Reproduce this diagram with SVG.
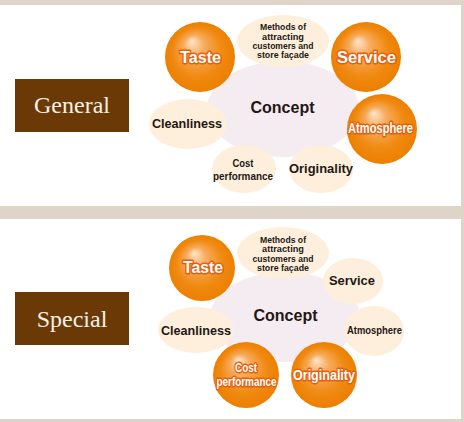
<svg xmlns="http://www.w3.org/2000/svg" width="464" height="422" viewBox="0 0 464 422">
<defs>
<radialGradient id="sph" cx="0.5" cy="0.5" r="0.5" fx="0.38" fy="0.27">
<stop offset="0" stop-color="#fde6cc"/>
<stop offset="0.3" stop-color="#f6ab5c"/>
<stop offset="0.7" stop-color="#f08a12"/>
<stop offset="1" stop-color="#ec7f00"/>
</radialGradient>
<style>
.bg{fill:#ded4c7}
.panel{fill:#ffffff}
.box{fill:#6a3906}
.boxt{font-family:"Liberation Serif","Times New Roman",serif;font-size:24px;fill:#f7f1e6;text-anchor:middle}
.concept{fill:#f5ecf1}
.light{fill:#fdefdc}
.sphere{fill:url(#sph)}
.lt{font-family:"Liberation Sans",Arial,sans-serif;font-weight:bold;fill:#231815;text-anchor:middle}
.st{font-family:"Liberation Sans",Arial,sans-serif;font-weight:bold;fill:#ffffff;stroke:#e5600e;stroke-width:3;stroke-linejoin:round;paint-order:stroke;text-anchor:middle}
</style>
</defs>
<rect class="bg" x="0" y="0" width="464" height="422"/>
<rect class="panel" x="0" y="5" width="461" height="201"/>
<rect class="panel" x="0" y="219" width="461" height="200"/>
<g id="connectors"/>
<!-- Panel 1 -->
<g id="general">
<rect class="box" x="15" y="79" width="114" height="53"/>
<text class="boxt" x="72" y="113">General</text>
</g>
<g id="g-concept">
<ellipse class="concept" cx="283" cy="109" rx="76" ry="48"/>
<text class="lt" x="282.5" y="113" font-size="16">Concept</text>
</g>
<g id="g-methods">
<ellipse class="light" cx="283" cy="41" rx="46" ry="26"/>
<text class="lt" font-size="8.5"><tspan x="283" y="30" textLength="46" lengthAdjust="spacingAndGlyphs">Methods of</tspan><tspan x="283" y="39.5" textLength="42" lengthAdjust="spacingAndGlyphs">attracting</tspan><tspan x="283" y="48.5" textLength="61" lengthAdjust="spacingAndGlyphs">customers and</tspan><tspan x="283" y="58" textLength="52" lengthAdjust="spacingAndGlyphs">store façade</tspan></text>
</g>
<g id="g-cleanliness">
<ellipse class="light" cx="188" cy="124" rx="39" ry="25"/>
<text class="lt" x="187" y="128" font-size="12.5" textLength="70" lengthAdjust="spacingAndGlyphs">Cleanliness</text>
</g>
<g id="g-cost">
<ellipse class="light" cx="244" cy="169" rx="32" ry="24"/>
<text class="lt" font-size="11"><tspan x="243" y="167" textLength="21" lengthAdjust="spacingAndGlyphs">Cost</tspan><tspan x="243" y="180" textLength="60" lengthAdjust="spacingAndGlyphs">performance</tspan></text>
</g>
<g id="g-originality">
<ellipse class="light" cx="321" cy="169" rx="32" ry="24"/>
<text class="lt" x="321" y="173" font-size="12.5" textLength="64" lengthAdjust="spacingAndGlyphs">Originality</text>
</g>
<g id="g-taste">
<circle class="sphere" cx="200" cy="57" r="35"/>
<text class="st" x="200.5" y="63" font-size="17" textLength="41" lengthAdjust="spacingAndGlyphs">Taste</text>
</g>
<g id="g-service">
<circle class="sphere" cx="366" cy="57" r="35"/>
<text class="st" x="366.5" y="63" font-size="17" textLength="59" lengthAdjust="spacingAndGlyphs">Service</text>
</g>
<g id="g-atmosphere">
<circle class="sphere" cx="382" cy="129" r="35"/>
<text class="st" x="380.5" y="133" font-size="14" textLength="65" lengthAdjust="spacingAndGlyphs">Atmosphere</text>
</g>
<!-- Panel 2 -->
<g id="special">
<rect class="box" x="15" y="292" width="114" height="53"/>
<text class="boxt" x="72" y="327">Special</text>
</g>
<g id="s-concept">
<ellipse class="concept" cx="285" cy="317" rx="75" ry="45"/>
<text class="lt" x="285.5" y="321" font-size="16">Concept</text>
</g>
<g id="s-methods">
<ellipse class="light" cx="283" cy="253" rx="46" ry="26"/>
<text class="lt" font-size="8.5"><tspan x="283" y="243" textLength="46" lengthAdjust="spacingAndGlyphs">Methods of</tspan><tspan x="283" y="252" textLength="42" lengthAdjust="spacingAndGlyphs">attracting</tspan><tspan x="283" y="261.5" textLength="61" lengthAdjust="spacingAndGlyphs">customers and</tspan><tspan x="283" y="271" textLength="52" lengthAdjust="spacingAndGlyphs">store façade</tspan></text>
</g>
<g id="s-service">
<ellipse class="light" cx="353" cy="281" rx="30" ry="23"/>
<text class="lt" x="352" y="285" font-size="12.5" textLength="46" lengthAdjust="spacingAndGlyphs">Service</text>
</g>
<g id="s-atmosphere">
<ellipse class="light" cx="374" cy="331" rx="30" ry="25"/>
<text class="lt" x="374.5" y="334" font-size="11.5" textLength="55" lengthAdjust="spacingAndGlyphs">Atmosphere</text>
</g>
<g id="s-cleanliness">
<ellipse class="light" cx="196" cy="330" rx="38" ry="23"/>
<text class="lt" x="196" y="335" font-size="12.5" textLength="70" lengthAdjust="spacingAndGlyphs">Cleanliness</text>
</g>
<g id="s-taste">
<circle class="sphere" cx="202" cy="268" r="33"/>
<text class="st" x="203" y="273" font-size="16" textLength="40" lengthAdjust="spacingAndGlyphs">Taste</text>
</g>
<g id="s-cost">
<circle class="sphere" cx="246" cy="375" r="33"/>
<text class="st" font-size="13"><tspan x="246" y="371.5" textLength="22" lengthAdjust="spacingAndGlyphs">Cost</tspan><tspan x="246.5" y="386" font-size="12.5" textLength="60" lengthAdjust="spacingAndGlyphs">performance</tspan></text>
</g>
<g id="s-originality">
<circle class="sphere" cx="324" cy="375" r="33"/>
<text class="st" x="324" y="380" font-size="15" textLength="62" lengthAdjust="spacingAndGlyphs">Originality</text>
</g>
</svg>
